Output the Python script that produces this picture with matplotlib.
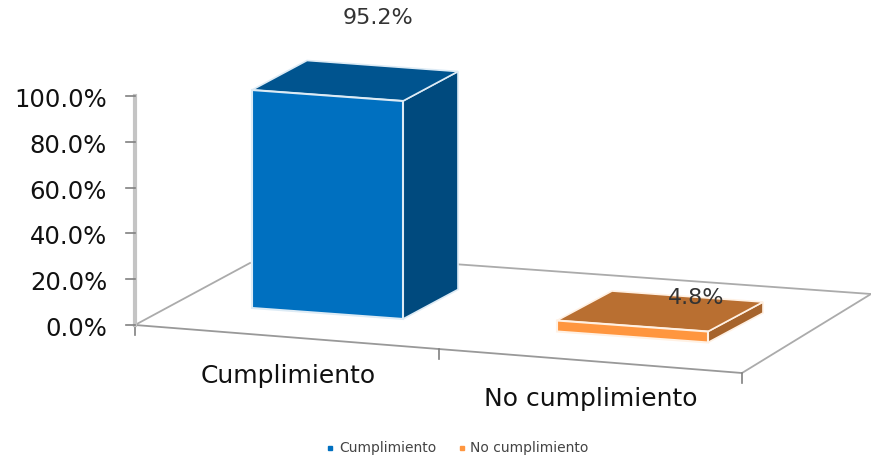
import matplotlib
matplotlib.use('Agg')
import matplotlib.pyplot as plt
from matplotlib.patches import Polygon

categorias = ['Cumplimiento', 'No cumplimiento']
valores = [95.2, 4.8]
etiquetas = ['95.2%', '4.8%']
ticks_y = [0, 20, 40, 60, 80, 100]
ticks_txt = ['0.0%', '20.0%', '40.0%', '60.0%', '80.0%', '100.0%']

col_frente = ['#0070C0', '#FF963F']
col_arriba = ['#00548F', '#B96F31']
col_lado = ['#004A7E', '#A6632B']

# proyeccion a mano: categoria (i), altura en %, todo en pixeles de la imagen
PX_POR_PCT = 2.29
ORIGEN = (135, 326)


def base_frente(i):
    return 252 + 305 * i, 309 + 23.5 * i


def alto(v):
    return v * PX_POR_PCT


fig = plt.figure(figsize=(8.71, 4.56), dpi=100)
ax = fig.add_axes([0, 0, 1, 1])
ax.set_xlim(0, 871)
ax.set_ylim(456, 0)
ax.axis('off')

gris = '#ABABAB'
# piso
ax.plot([135, 250], [326, 264], color=gris, lw=1.3, zorder=1)
ax.plot([135, 742], [326, 374], color='#999999', lw=1.3, zorder=1)
ax.plot([742, 871], [374, 295], color=gris, lw=1.3, zorder=1)
ax.plot([300, 871], [254, 295], color=gris, lw=1.3, zorder=1)
# marcas del eje x
for i in range(3):
    xt = ORIGEN[0] + 303.5 * i
    yt = ORIGEN[1] + 24 * i
    ax.plot([xt, xt], [yt, yt + 10], color='#808080', lw=1.2, zorder=1)

# eje y
ax.plot([135, 135], [ORIGEN[1], ORIGEN[1] - alto(100)], color='#C4C4C4', lw=3, zorder=1)
for t, txt in zip(ticks_y, ticks_txt):
    yt = ORIGEN[1] - alto(t)
    ax.plot([126, 135], [yt, yt], color='#808080', lw=1.2, zorder=2)
    ax.text(107, yt + 3, txt, ha='right', va='center', fontsize=17.5, color='#111111')

# barras
ANCHO, CAIDA = 151, 11
PROF_X, PROF_Y = 55, -29.5
for i, v in enumerate(valores):
    x0, y0 = base_frente(i)
    h = alto(v)
    frente = [(x0, y0), (x0 + ANCHO, y0 + CAIDA), (x0 + ANCHO, y0 + CAIDA - h), (x0, y0 - h)]
    arriba = [(x0, y0 - h), (x0 + ANCHO, y0 + CAIDA - h),
              (x0 + ANCHO + PROF_X, y0 + CAIDA - h + PROF_Y), (x0 + PROF_X, y0 - h + PROF_Y)]
    lado = [(x0 + ANCHO, y0 + CAIDA), (x0 + ANCHO + PROF_X, y0 + CAIDA + PROF_Y),
            (x0 + ANCHO + PROF_X, y0 + CAIDA + PROF_Y - h), (x0 + ANCHO, y0 + CAIDA - h)]
    borde = '#DDEBF5' if i == 0 else '#FFF1E4'
    ax.add_patch(Polygon(lado, fc=col_lado[i], ec=borde, lw=1.2, zorder=3))
    ax.add_patch(Polygon(arriba, fc=col_arriba[i], ec=borde, lw=1.2, zorder=3))
    ax.add_patch(Polygon(frente, fc=col_frente[i], ec=borde, lw=1.5, zorder=4))

# textos
ax.text(378, 18, etiquetas[0], ha='center', va='center', fontsize=16, color='#333333', zorder=5)
ax.text(696, 298, etiquetas[1], ha='center', va='center', fontsize=16, color='#333333', zorder=5)
ax.text(288, 376, categorias[0], ha='center', va='center', fontsize=18, color='#111111')
ax.text(591, 399, categorias[1], ha='center', va='center', fontsize=18, color='#111111')

# leyenda
for xs, xt, c, nom in zip([330, 462], [339, 470], col_frente, categorias):
    ax.plot([xs], [449], marker='s', ms=3.5, color=c, ls='none')
    ax.text(xt, 448.5, nom, ha='left', va='center', fontsize=10, color='#444444')

plt.savefig('out.png', dpi=100)
plt.close()
